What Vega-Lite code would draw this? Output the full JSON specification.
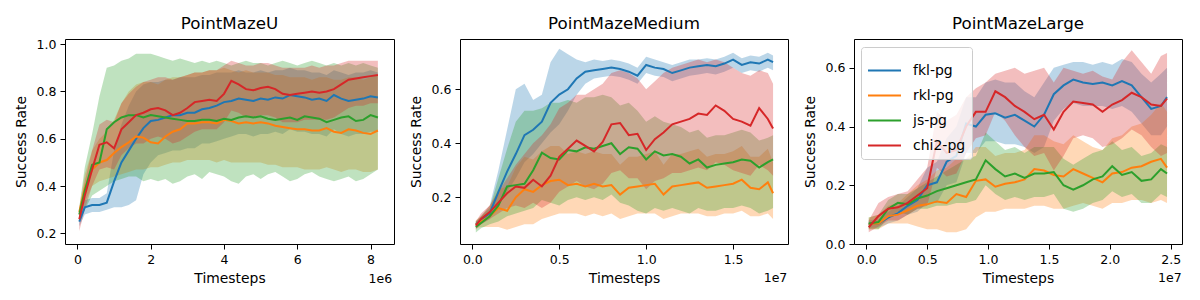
{
"$schema": "https://vega.github.io/schema/vega-lite/v6.json",
"padding": {"left": 13, "top": 15, "right": 5, "bottom": 5},
"spacing": 66,
"bounds": "flush",
"config": {
  "font": "DejaVu Sans",
  "view": {"stroke": "black", "strokeWidth": 1},
  "axis": {"domain": false, "grid": false, "tickColor": "black", "tickSize": 5, "tickWidth": 1, "labelFontSize": 12.5, "labelColor": "black", "labelPadding": 4, "titleFontSize": 13.9, "titleFontWeight": "normal", "titleColor": "black", "titlePadding": 6, "labelFont": "DejaVu Sans", "titleFont": "DejaVu Sans"},
  "axisY": {"titlePadding": 8},
  "title": {"fontSize": 16.7, "fontWeight": "normal", "font": "DejaVu Sans", "offset": 6, "color": "black"}
},
"resolve": {"scale": {"x": "independent", "y": "independent", "color": "independent"}, "legend": {"color": "independent"}},
"datasets": {
"U": [
{"algo":"fkl-pg","t":0.05,"y":0.25,"lo":0.23,"hi":0.27},
{"algo":"fkl-pg","t":0.2,"y":0.31,"lo":0.28,"hi":0.34},
{"algo":"fkl-pg","t":0.4,"y":0.32,"lo":0.29,"hi":0.35},
{"algo":"fkl-pg","t":0.6,"y":0.32,"lo":0.29,"hi":0.35},
{"algo":"fkl-pg","t":0.8,"y":0.33,"lo":0.30,"hi":0.37},
{"algo":"fkl-pg","t":1.0,"y":0.42,"lo":0.31,"hi":0.55},
{"algo":"fkl-pg","t":1.2,"y":0.50,"lo":0.31,"hi":0.66},
{"algo":"fkl-pg","t":1.4,"y":0.55,"lo":0.32,"hi":0.74},
{"algo":"fkl-pg","t":1.6,"y":0.60,"lo":0.34,"hi":0.80},
{"algo":"fkl-pg","t":1.8,"y":0.645,"lo":0.45,"hi":0.83},
{"algo":"fkl-pg","t":2.0,"y":0.675,"lo":0.50,"hi":0.84},
{"algo":"fkl-pg","t":2.2,"y":0.68,"lo":0.53,"hi":0.84},
{"algo":"fkl-pg","t":2.4,"y":0.69,"lo":0.54,"hi":0.85},
{"algo":"fkl-pg","t":2.6,"y":0.70,"lo":0.55,"hi":0.85},
{"algo":"fkl-pg","t":2.8,"y":0.70,"lo":0.55,"hi":0.86},
{"algo":"fkl-pg","t":3.0,"y":0.71,"lo":0.56,"hi":0.86},
{"algo":"fkl-pg","t":3.2,"y":0.71,"lo":0.56,"hi":0.86},
{"algo":"fkl-pg","t":3.4,"y":0.725,"lo":0.58,"hi":0.87},
{"algo":"fkl-pg","t":3.6,"y":0.73,"lo":0.58,"hi":0.87},
{"algo":"fkl-pg","t":3.8,"y":0.74,"lo":0.59,"hi":0.88},
{"algo":"fkl-pg","t":4.0,"y":0.755,"lo":0.60,"hi":0.88},
{"algo":"fkl-pg","t":4.2,"y":0.76,"lo":0.61,"hi":0.88},
{"algo":"fkl-pg","t":4.4,"y":0.77,"lo":0.62,"hi":0.89},
{"algo":"fkl-pg","t":4.6,"y":0.765,"lo":0.62,"hi":0.88},
{"algo":"fkl-pg","t":4.8,"y":0.76,"lo":0.61,"hi":0.88},
{"algo":"fkl-pg","t":5.0,"y":0.77,"lo":0.62,"hi":0.89},
{"algo":"fkl-pg","t":5.2,"y":0.765,"lo":0.62,"hi":0.88},
{"algo":"fkl-pg","t":5.4,"y":0.775,"lo":0.63,"hi":0.89},
{"algo":"fkl-pg","t":5.6,"y":0.77,"lo":0.62,"hi":0.89},
{"algo":"fkl-pg","t":5.8,"y":0.785,"lo":0.64,"hi":0.90},
{"algo":"fkl-pg","t":6.0,"y":0.78,"lo":0.63,"hi":0.89},
{"algo":"fkl-pg","t":6.2,"y":0.775,"lo":0.63,"hi":0.89},
{"algo":"fkl-pg","t":6.4,"y":0.765,"lo":0.62,"hi":0.88},
{"algo":"fkl-pg","t":6.6,"y":0.77,"lo":0.62,"hi":0.88},
{"algo":"fkl-pg","t":6.8,"y":0.76,"lo":0.61,"hi":0.87},
{"algo":"fkl-pg","t":7.0,"y":0.785,"lo":0.64,"hi":0.89},
{"algo":"fkl-pg","t":7.2,"y":0.77,"lo":0.62,"hi":0.88},
{"algo":"fkl-pg","t":7.4,"y":0.76,"lo":0.61,"hi":0.87},
{"algo":"fkl-pg","t":7.6,"y":0.765,"lo":0.62,"hi":0.88},
{"algo":"fkl-pg","t":7.8,"y":0.77,"lo":0.62,"hi":0.88},
{"algo":"fkl-pg","t":8.0,"y":0.78,"lo":0.63,"hi":0.89},
{"algo":"fkl-pg","t":8.2,"y":0.775,"lo":0.63,"hi":0.88},
{"algo":"rkl-pg","t":0.05,"y":0.29,"lo":0.27,"hi":0.31},
{"algo":"rkl-pg","t":0.2,"y":0.39,"lo":0.33,"hi":0.45},
{"algo":"rkl-pg","t":0.4,"y":0.47,"lo":0.40,"hi":0.55},
{"algo":"rkl-pg","t":0.6,"y":0.50,"lo":0.42,"hi":0.60},
{"algo":"rkl-pg","t":0.8,"y":0.51,"lo":0.43,"hi":0.63},
{"algo":"rkl-pg","t":1.0,"y":0.54,"lo":0.44,"hi":0.68},
{"algo":"rkl-pg","t":1.2,"y":0.565,"lo":0.45,"hi":0.75},
{"algo":"rkl-pg","t":1.4,"y":0.585,"lo":0.46,"hi":0.80},
{"algo":"rkl-pg","t":1.6,"y":0.61,"lo":0.47,"hi":0.83},
{"algo":"rkl-pg","t":1.8,"y":0.605,"lo":0.47,"hi":0.84},
{"algo":"rkl-pg","t":2.0,"y":0.585,"lo":0.48,"hi":0.84},
{"algo":"rkl-pg","t":2.2,"y":0.58,"lo":0.48,"hi":0.83},
{"algo":"rkl-pg","t":2.4,"y":0.61,"lo":0.49,"hi":0.85},
{"algo":"rkl-pg","t":2.6,"y":0.63,"lo":0.50,"hi":0.86},
{"algo":"rkl-pg","t":2.8,"y":0.64,"lo":0.50,"hi":0.86},
{"algo":"rkl-pg","t":3.0,"y":0.665,"lo":0.51,"hi":0.87},
{"algo":"rkl-pg","t":3.2,"y":0.665,"lo":0.51,"hi":0.88},
{"algo":"rkl-pg","t":3.4,"y":0.67,"lo":0.51,"hi":0.88},
{"algo":"rkl-pg","t":3.6,"y":0.67,"lo":0.51,"hi":0.89},
{"algo":"rkl-pg","t":3.8,"y":0.665,"lo":0.50,"hi":0.89},
{"algo":"rkl-pg","t":4.0,"y":0.68,"lo":0.51,"hi":0.90},
{"algo":"rkl-pg","t":4.2,"y":0.675,"lo":0.50,"hi":0.89},
{"algo":"rkl-pg","t":4.4,"y":0.665,"lo":0.50,"hi":0.88},
{"algo":"rkl-pg","t":4.6,"y":0.67,"lo":0.50,"hi":0.89},
{"algo":"rkl-pg","t":4.8,"y":0.665,"lo":0.50,"hi":0.88},
{"algo":"rkl-pg","t":5.0,"y":0.67,"lo":0.50,"hi":0.88},
{"algo":"rkl-pg","t":5.2,"y":0.665,"lo":0.49,"hi":0.88},
{"algo":"rkl-pg","t":5.4,"y":0.655,"lo":0.49,"hi":0.87},
{"algo":"rkl-pg","t":5.6,"y":0.65,"lo":0.48,"hi":0.87},
{"algo":"rkl-pg","t":5.8,"y":0.645,"lo":0.48,"hi":0.86},
{"algo":"rkl-pg","t":6.0,"y":0.64,"lo":0.48,"hi":0.86},
{"algo":"rkl-pg","t":6.2,"y":0.64,"lo":0.47,"hi":0.86},
{"algo":"rkl-pg","t":6.4,"y":0.635,"lo":0.47,"hi":0.85},
{"algo":"rkl-pg","t":6.6,"y":0.635,"lo":0.47,"hi":0.86},
{"algo":"rkl-pg","t":6.8,"y":0.645,"lo":0.48,"hi":0.86},
{"algo":"rkl-pg","t":7.0,"y":0.63,"lo":0.47,"hi":0.85},
{"algo":"rkl-pg","t":7.2,"y":0.625,"lo":0.46,"hi":0.85},
{"algo":"rkl-pg","t":7.4,"y":0.64,"lo":0.47,"hi":0.86},
{"algo":"rkl-pg","t":7.6,"y":0.635,"lo":0.47,"hi":0.86},
{"algo":"rkl-pg","t":7.8,"y":0.625,"lo":0.46,"hi":0.85},
{"algo":"rkl-pg","t":8.0,"y":0.62,"lo":0.46,"hi":0.86},
{"algo":"rkl-pg","t":8.2,"y":0.635,"lo":0.47,"hi":0.87},
{"algo":"js-pg","t":0.05,"y":0.28,"lo":0.25,"hi":0.31},
{"algo":"js-pg","t":0.2,"y":0.38,"lo":0.30,"hi":0.48},
{"algo":"js-pg","t":0.4,"y":0.49,"lo":0.36,"hi":0.62},
{"algo":"js-pg","t":0.6,"y":0.50,"lo":0.38,"hi":0.78},
{"algo":"js-pg","t":0.8,"y":0.64,"lo":0.40,"hi":0.90},
{"algo":"js-pg","t":1.0,"y":0.67,"lo":0.42,"hi":0.91},
{"algo":"js-pg","t":1.2,"y":0.69,"lo":0.43,"hi":0.93},
{"algo":"js-pg","t":1.4,"y":0.70,"lo":0.44,"hi":0.94},
{"algo":"js-pg","t":1.6,"y":0.70,"lo":0.44,"hi":0.96},
{"algo":"js-pg","t":1.8,"y":0.69,"lo":0.42,"hi":0.96},
{"algo":"js-pg","t":2.0,"y":0.70,"lo":0.43,"hi":0.96},
{"algo":"js-pg","t":2.2,"y":0.695,"lo":0.42,"hi":0.95},
{"algo":"js-pg","t":2.4,"y":0.69,"lo":0.43,"hi":0.94},
{"algo":"js-pg","t":2.6,"y":0.685,"lo":0.41,"hi":0.93},
{"algo":"js-pg","t":2.8,"y":0.68,"lo":0.42,"hi":0.94},
{"algo":"js-pg","t":3.0,"y":0.675,"lo":0.44,"hi":0.93},
{"algo":"js-pg","t":3.2,"y":0.675,"lo":0.45,"hi":0.92},
{"algo":"js-pg","t":3.4,"y":0.68,"lo":0.43,"hi":0.93},
{"algo":"js-pg","t":3.6,"y":0.68,"lo":0.46,"hi":0.92},
{"algo":"js-pg","t":3.8,"y":0.675,"lo":0.45,"hi":0.93},
{"algo":"js-pg","t":4.0,"y":0.685,"lo":0.44,"hi":0.92},
{"algo":"js-pg","t":4.2,"y":0.68,"lo":0.42,"hi":0.91},
{"algo":"js-pg","t":4.4,"y":0.69,"lo":0.41,"hi":0.92},
{"algo":"js-pg","t":4.6,"y":0.695,"lo":0.44,"hi":0.93},
{"algo":"js-pg","t":4.8,"y":0.69,"lo":0.45,"hi":0.92},
{"algo":"js-pg","t":5.0,"y":0.695,"lo":0.43,"hi":0.92},
{"algo":"js-pg","t":5.2,"y":0.685,"lo":0.45,"hi":0.91},
{"algo":"js-pg","t":5.4,"y":0.68,"lo":0.46,"hi":0.92},
{"algo":"js-pg","t":5.6,"y":0.685,"lo":0.44,"hi":0.93},
{"algo":"js-pg","t":5.8,"y":0.69,"lo":0.42,"hi":0.92},
{"algo":"js-pg","t":6.0,"y":0.68,"lo":0.43,"hi":0.91},
{"algo":"js-pg","t":6.2,"y":0.695,"lo":0.45,"hi":0.92},
{"algo":"js-pg","t":6.4,"y":0.69,"lo":0.46,"hi":0.93},
{"algo":"js-pg","t":6.6,"y":0.685,"lo":0.44,"hi":0.92},
{"algo":"js-pg","t":6.8,"y":0.67,"lo":0.43,"hi":0.91},
{"algo":"js-pg","t":7.0,"y":0.68,"lo":0.42,"hi":0.92},
{"algo":"js-pg","t":7.2,"y":0.69,"lo":0.43,"hi":0.91},
{"algo":"js-pg","t":7.4,"y":0.695,"lo":0.44,"hi":0.92},
{"algo":"js-pg","t":7.6,"y":0.675,"lo":0.42,"hi":0.91},
{"algo":"js-pg","t":7.8,"y":0.68,"lo":0.43,"hi":0.92},
{"algo":"js-pg","t":8.0,"y":0.70,"lo":0.45,"hi":0.91},
{"algo":"js-pg","t":8.2,"y":0.69,"lo":0.47,"hi":0.90},
{"algo":"chi2-pg","t":0.05,"y":0.26,"lo":0.21,"hi":0.30},
{"algo":"chi2-pg","t":0.2,"y":0.36,"lo":0.30,"hi":0.42},
{"algo":"chi2-pg","t":0.4,"y":0.47,"lo":0.40,"hi":0.55},
{"algo":"chi2-pg","t":0.6,"y":0.575,"lo":0.47,"hi":0.66},
{"algo":"chi2-pg","t":0.8,"y":0.585,"lo":0.48,"hi":0.68},
{"algo":"chi2-pg","t":1.0,"y":0.56,"lo":0.47,"hi":0.67},
{"algo":"chi2-pg","t":1.2,"y":0.64,"lo":0.53,"hi":0.75},
{"algo":"chi2-pg","t":1.4,"y":0.67,"lo":0.56,"hi":0.79},
{"algo":"chi2-pg","t":1.6,"y":0.70,"lo":0.58,"hi":0.82},
{"algo":"chi2-pg","t":1.8,"y":0.71,"lo":0.58,"hi":0.84},
{"algo":"chi2-pg","t":2.0,"y":0.725,"lo":0.60,"hi":0.85},
{"algo":"chi2-pg","t":2.2,"y":0.73,"lo":0.61,"hi":0.86},
{"algo":"chi2-pg","t":2.4,"y":0.72,"lo":0.60,"hi":0.86},
{"algo":"chi2-pg","t":2.6,"y":0.70,"lo":0.58,"hi":0.85},
{"algo":"chi2-pg","t":2.8,"y":0.71,"lo":0.59,"hi":0.86},
{"algo":"chi2-pg","t":3.0,"y":0.73,"lo":0.61,"hi":0.87},
{"algo":"chi2-pg","t":3.2,"y":0.755,"lo":0.63,"hi":0.88},
{"algo":"chi2-pg","t":3.4,"y":0.76,"lo":0.64,"hi":0.88},
{"algo":"chi2-pg","t":3.6,"y":0.765,"lo":0.64,"hi":0.89},
{"algo":"chi2-pg","t":3.8,"y":0.76,"lo":0.64,"hi":0.89},
{"algo":"chi2-pg","t":4.0,"y":0.79,"lo":0.67,"hi":0.91},
{"algo":"chi2-pg","t":4.2,"y":0.845,"lo":0.72,"hi":0.93},
{"algo":"chi2-pg","t":4.4,"y":0.83,"lo":0.71,"hi":0.92},
{"algo":"chi2-pg","t":4.6,"y":0.81,"lo":0.69,"hi":0.91},
{"algo":"chi2-pg","t":4.8,"y":0.805,"lo":0.69,"hi":0.91},
{"algo":"chi2-pg","t":5.0,"y":0.815,"lo":0.70,"hi":0.92},
{"algo":"chi2-pg","t":5.2,"y":0.82,"lo":0.70,"hi":0.92},
{"algo":"chi2-pg","t":5.4,"y":0.81,"lo":0.69,"hi":0.91},
{"algo":"chi2-pg","t":5.6,"y":0.79,"lo":0.67,"hi":0.90},
{"algo":"chi2-pg","t":5.8,"y":0.785,"lo":0.67,"hi":0.90},
{"algo":"chi2-pg","t":6.0,"y":0.79,"lo":0.67,"hi":0.90},
{"algo":"chi2-pg","t":6.2,"y":0.795,"lo":0.68,"hi":0.90},
{"algo":"chi2-pg","t":6.4,"y":0.80,"lo":0.68,"hi":0.91},
{"algo":"chi2-pg","t":6.6,"y":0.795,"lo":0.68,"hi":0.90},
{"algo":"chi2-pg","t":6.8,"y":0.80,"lo":0.68,"hi":0.91},
{"algo":"chi2-pg","t":7.0,"y":0.81,"lo":0.69,"hi":0.91},
{"algo":"chi2-pg","t":7.2,"y":0.83,"lo":0.71,"hi":0.92},
{"algo":"chi2-pg","t":7.4,"y":0.85,"lo":0.73,"hi":0.93},
{"algo":"chi2-pg","t":7.6,"y":0.855,"lo":0.74,"hi":0.93},
{"algo":"chi2-pg","t":7.8,"y":0.86,"lo":0.74,"hi":0.93},
{"algo":"chi2-pg","t":8.0,"y":0.865,"lo":0.75,"hi":0.93},
{"algo":"chi2-pg","t":8.2,"y":0.87,"lo":0.75,"hi":0.93}
],
"M": [
{"algo":"fkl-pg","t":0.02,"y":0.10,"lo":0.085,"hi":0.11},
{"algo":"fkl-pg","t":0.05,"y":0.115,"lo":0.10,"hi":0.13},
{"algo":"fkl-pg","t":0.1,"y":0.14,"lo":0.12,"hi":0.17},
{"algo":"fkl-pg","t":0.15,"y":0.22,"lo":0.17,"hi":0.30},
{"algo":"fkl-pg","t":0.2,"y":0.295,"lo":0.22,"hi":0.45},
{"algo":"fkl-pg","t":0.25,"y":0.36,"lo":0.27,"hi":0.60},
{"algo":"fkl-pg","t":0.3,"y":0.43,"lo":0.33,"hi":0.62},
{"algo":"fkl-pg","t":0.35,"y":0.45,"lo":0.36,"hi":0.56},
{"algo":"fkl-pg","t":0.4,"y":0.48,"lo":0.40,"hi":0.58},
{"algo":"fkl-pg","t":0.45,"y":0.55,"lo":0.44,"hi":0.70},
{"algo":"fkl-pg","t":0.5,"y":0.58,"lo":0.47,"hi":0.75},
{"algo":"fkl-pg","t":0.55,"y":0.60,"lo":0.52,"hi":0.73},
{"algo":"fkl-pg","t":0.6,"y":0.64,"lo":0.58,"hi":0.71},
{"algo":"fkl-pg","t":0.65,"y":0.665,"lo":0.62,"hi":0.70},
{"algo":"fkl-pg","t":0.7,"y":0.67,"lo":0.64,"hi":0.71},
{"algo":"fkl-pg","t":0.75,"y":0.675,"lo":0.645,"hi":0.705},
{"algo":"fkl-pg","t":0.8,"y":0.68,"lo":0.65,"hi":0.71},
{"algo":"fkl-pg","t":0.85,"y":0.675,"lo":0.645,"hi":0.705},
{"algo":"fkl-pg","t":0.9,"y":0.665,"lo":0.635,"hi":0.695},
{"algo":"fkl-pg","t":0.95,"y":0.65,"lo":0.62,"hi":0.68},
{"algo":"fkl-pg","t":1.0,"y":0.69,"lo":0.66,"hi":0.72},
{"algo":"fkl-pg","t":1.05,"y":0.68,"lo":0.65,"hi":0.71},
{"algo":"fkl-pg","t":1.1,"y":0.675,"lo":0.645,"hi":0.70},
{"algo":"fkl-pg","t":1.15,"y":0.66,"lo":0.63,"hi":0.69},
{"algo":"fkl-pg","t":1.2,"y":0.67,"lo":0.64,"hi":0.70},
{"algo":"fkl-pg","t":1.25,"y":0.68,"lo":0.65,"hi":0.71},
{"algo":"fkl-pg","t":1.3,"y":0.685,"lo":0.655,"hi":0.71},
{"algo":"fkl-pg","t":1.35,"y":0.69,"lo":0.66,"hi":0.715},
{"algo":"fkl-pg","t":1.4,"y":0.685,"lo":0.655,"hi":0.71},
{"algo":"fkl-pg","t":1.45,"y":0.695,"lo":0.665,"hi":0.72},
{"algo":"fkl-pg","t":1.5,"y":0.71,"lo":0.68,"hi":0.735},
{"algo":"fkl-pg","t":1.55,"y":0.69,"lo":0.66,"hi":0.715},
{"algo":"fkl-pg","t":1.6,"y":0.70,"lo":0.67,"hi":0.725},
{"algo":"fkl-pg","t":1.65,"y":0.695,"lo":0.665,"hi":0.72},
{"algo":"fkl-pg","t":1.7,"y":0.71,"lo":0.68,"hi":0.735},
{"algo":"fkl-pg","t":1.73,"y":0.70,"lo":0.67,"hi":0.725},
{"algo":"rkl-pg","t":0.02,"y":0.10,"lo":0.085,"hi":0.115},
{"algo":"rkl-pg","t":0.05,"y":0.11,"lo":0.09,"hi":0.13},
{"algo":"rkl-pg","t":0.1,"y":0.13,"lo":0.09,"hi":0.17},
{"algo":"rkl-pg","t":0.15,"y":0.16,"lo":0.09,"hi":0.23},
{"algo":"rkl-pg","t":0.2,"y":0.15,"lo":0.08,"hi":0.24},
{"algo":"rkl-pg","t":0.25,"y":0.20,"lo":0.09,"hi":0.31},
{"algo":"rkl-pg","t":0.3,"y":0.23,"lo":0.10,"hi":0.35},
{"algo":"rkl-pg","t":0.35,"y":0.22,"lo":0.10,"hi":0.34},
{"algo":"rkl-pg","t":0.4,"y":0.245,"lo":0.12,"hi":0.37},
{"algo":"rkl-pg","t":0.45,"y":0.26,"lo":0.13,"hi":0.39},
{"algo":"rkl-pg","t":0.5,"y":0.265,"lo":0.14,"hi":0.39},
{"algo":"rkl-pg","t":0.55,"y":0.245,"lo":0.14,"hi":0.36},
{"algo":"rkl-pg","t":0.6,"y":0.25,"lo":0.14,"hi":0.37},
{"algo":"rkl-pg","t":0.65,"y":0.24,"lo":0.13,"hi":0.36},
{"algo":"rkl-pg","t":0.7,"y":0.25,"lo":0.14,"hi":0.37},
{"algo":"rkl-pg","t":0.75,"y":0.24,"lo":0.13,"hi":0.36},
{"algo":"rkl-pg","t":0.8,"y":0.245,"lo":0.14,"hi":0.36},
{"algo":"rkl-pg","t":0.85,"y":0.21,"lo":0.12,"hi":0.32},
{"algo":"rkl-pg","t":0.9,"y":0.235,"lo":0.13,"hi":0.35},
{"algo":"rkl-pg","t":0.95,"y":0.24,"lo":0.14,"hi":0.35},
{"algo":"rkl-pg","t":1.0,"y":0.245,"lo":0.14,"hi":0.36},
{"algo":"rkl-pg","t":1.05,"y":0.25,"lo":0.14,"hi":0.37},
{"algo":"rkl-pg","t":1.1,"y":0.21,"lo":0.12,"hi":0.32},
{"algo":"rkl-pg","t":1.15,"y":0.24,"lo":0.13,"hi":0.36},
{"algo":"rkl-pg","t":1.2,"y":0.245,"lo":0.14,"hi":0.36},
{"algo":"rkl-pg","t":1.25,"y":0.25,"lo":0.14,"hi":0.37},
{"algo":"rkl-pg","t":1.3,"y":0.255,"lo":0.14,"hi":0.38},
{"algo":"rkl-pg","t":1.35,"y":0.235,"lo":0.13,"hi":0.35},
{"algo":"rkl-pg","t":1.4,"y":0.24,"lo":0.13,"hi":0.36},
{"algo":"rkl-pg","t":1.45,"y":0.245,"lo":0.14,"hi":0.36},
{"algo":"rkl-pg","t":1.5,"y":0.25,"lo":0.14,"hi":0.37},
{"algo":"rkl-pg","t":1.55,"y":0.265,"lo":0.15,"hi":0.39},
{"algo":"rkl-pg","t":1.6,"y":0.235,"lo":0.13,"hi":0.35},
{"algo":"rkl-pg","t":1.65,"y":0.23,"lo":0.13,"hi":0.35},
{"algo":"rkl-pg","t":1.7,"y":0.255,"lo":0.14,"hi":0.38},
{"algo":"rkl-pg","t":1.73,"y":0.215,"lo":0.12,"hi":0.33},
{"algo":"js-pg","t":0.02,"y":0.09,"lo":0.07,"hi":0.11},
{"algo":"js-pg","t":0.05,"y":0.105,"lo":0.085,"hi":0.13},
{"algo":"js-pg","t":0.1,"y":0.13,"lo":0.10,"hi":0.16},
{"algo":"js-pg","t":0.15,"y":0.17,"lo":0.11,"hi":0.27},
{"algo":"js-pg","t":0.2,"y":0.24,"lo":0.13,"hi":0.38},
{"algo":"js-pg","t":0.25,"y":0.245,"lo":0.14,"hi":0.48},
{"algo":"js-pg","t":0.3,"y":0.25,"lo":0.15,"hi":0.52},
{"algo":"js-pg","t":0.35,"y":0.30,"lo":0.16,"hi":0.52},
{"algo":"js-pg","t":0.4,"y":0.365,"lo":0.19,"hi":0.53},
{"algo":"js-pg","t":0.45,"y":0.345,"lo":0.18,"hi":0.55},
{"algo":"js-pg","t":0.5,"y":0.34,"lo":0.17,"hi":0.55},
{"algo":"js-pg","t":0.55,"y":0.375,"lo":0.19,"hi":0.56},
{"algo":"js-pg","t":0.6,"y":0.37,"lo":0.20,"hi":0.55},
{"algo":"js-pg","t":0.65,"y":0.385,"lo":0.19,"hi":0.57},
{"algo":"js-pg","t":0.7,"y":0.38,"lo":0.20,"hi":0.57},
{"algo":"js-pg","t":0.75,"y":0.39,"lo":0.19,"hi":0.58},
{"algo":"js-pg","t":0.8,"y":0.40,"lo":0.21,"hi":0.57},
{"algo":"js-pg","t":0.85,"y":0.36,"lo":0.18,"hi":0.54},
{"algo":"js-pg","t":0.9,"y":0.385,"lo":0.17,"hi":0.55},
{"algo":"js-pg","t":0.95,"y":0.38,"lo":0.15,"hi":0.52},
{"algo":"js-pg","t":1.0,"y":0.34,"lo":0.14,"hi":0.48},
{"algo":"js-pg","t":1.05,"y":0.37,"lo":0.16,"hi":0.50},
{"algo":"js-pg","t":1.1,"y":0.355,"lo":0.15,"hi":0.48},
{"algo":"js-pg","t":1.15,"y":0.36,"lo":0.16,"hi":0.47},
{"algo":"js-pg","t":1.2,"y":0.35,"lo":0.15,"hi":0.46},
{"algo":"js-pg","t":1.25,"y":0.325,"lo":0.14,"hi":0.44},
{"algo":"js-pg","t":1.3,"y":0.34,"lo":0.16,"hi":0.45},
{"algo":"js-pg","t":1.35,"y":0.31,"lo":0.15,"hi":0.42},
{"algo":"js-pg","t":1.4,"y":0.32,"lo":0.15,"hi":0.43},
{"algo":"js-pg","t":1.45,"y":0.325,"lo":0.16,"hi":0.43},
{"algo":"js-pg","t":1.5,"y":0.33,"lo":0.16,"hi":0.44},
{"algo":"js-pg","t":1.55,"y":0.34,"lo":0.17,"hi":0.45},
{"algo":"js-pg","t":1.6,"y":0.335,"lo":0.16,"hi":0.44},
{"algo":"js-pg","t":1.65,"y":0.31,"lo":0.14,"hi":0.41},
{"algo":"js-pg","t":1.7,"y":0.33,"lo":0.15,"hi":0.42},
{"algo":"js-pg","t":1.73,"y":0.34,"lo":0.16,"hi":0.43},
{"algo":"chi2-pg","t":0.02,"y":0.095,"lo":0.08,"hi":0.11},
{"algo":"chi2-pg","t":0.05,"y":0.12,"lo":0.10,"hi":0.14},
{"algo":"chi2-pg","t":0.1,"y":0.145,"lo":0.12,"hi":0.17},
{"algo":"chi2-pg","t":0.15,"y":0.18,"lo":0.14,"hi":0.22},
{"algo":"chi2-pg","t":0.2,"y":0.215,"lo":0.16,"hi":0.27},
{"algo":"chi2-pg","t":0.25,"y":0.24,"lo":0.17,"hi":0.32},
{"algo":"chi2-pg","t":0.3,"y":0.235,"lo":0.16,"hi":0.36},
{"algo":"chi2-pg","t":0.35,"y":0.265,"lo":0.18,"hi":0.40},
{"algo":"chi2-pg","t":0.4,"y":0.24,"lo":0.16,"hi":0.43},
{"algo":"chi2-pg","t":0.45,"y":0.28,"lo":0.18,"hi":0.47},
{"algo":"chi2-pg","t":0.5,"y":0.35,"lo":0.22,"hi":0.53},
{"algo":"chi2-pg","t":0.55,"y":0.38,"lo":0.24,"hi":0.55},
{"algo":"chi2-pg","t":0.6,"y":0.41,"lo":0.26,"hi":0.58},
{"algo":"chi2-pg","t":0.65,"y":0.39,"lo":0.24,"hi":0.58},
{"algo":"chi2-pg","t":0.7,"y":0.37,"lo":0.23,"hi":0.60},
{"algo":"chi2-pg","t":0.75,"y":0.405,"lo":0.25,"hi":0.62},
{"algo":"chi2-pg","t":0.8,"y":0.47,"lo":0.29,"hi":0.66},
{"algo":"chi2-pg","t":0.85,"y":0.475,"lo":0.30,"hi":0.67},
{"algo":"chi2-pg","t":0.9,"y":0.43,"lo":0.27,"hi":0.66},
{"algo":"chi2-pg","t":0.95,"y":0.435,"lo":0.27,"hi":0.64},
{"algo":"chi2-pg","t":1.0,"y":0.375,"lo":0.23,"hi":0.60},
{"algo":"chi2-pg","t":1.05,"y":0.415,"lo":0.26,"hi":0.63},
{"algo":"chi2-pg","t":1.1,"y":0.44,"lo":0.27,"hi":0.66},
{"algo":"chi2-pg","t":1.15,"y":0.47,"lo":0.29,"hi":0.68},
{"algo":"chi2-pg","t":1.2,"y":0.48,"lo":0.29,"hi":0.69},
{"algo":"chi2-pg","t":1.25,"y":0.49,"lo":0.30,"hi":0.70},
{"algo":"chi2-pg","t":1.3,"y":0.51,"lo":0.31,"hi":0.71},
{"algo":"chi2-pg","t":1.35,"y":0.505,"lo":0.30,"hi":0.70},
{"algo":"chi2-pg","t":1.4,"y":0.54,"lo":0.33,"hi":0.71},
{"algo":"chi2-pg","t":1.45,"y":0.52,"lo":0.32,"hi":0.70},
{"algo":"chi2-pg","t":1.5,"y":0.49,"lo":0.30,"hi":0.68},
{"algo":"chi2-pg","t":1.55,"y":0.48,"lo":0.29,"hi":0.66},
{"algo":"chi2-pg","t":1.6,"y":0.465,"lo":0.28,"hi":0.65},
{"algo":"chi2-pg","t":1.65,"y":0.53,"lo":0.32,"hi":0.67},
{"algo":"chi2-pg","t":1.7,"y":0.49,"lo":0.30,"hi":0.66},
{"algo":"chi2-pg","t":1.73,"y":0.455,"lo":0.28,"hi":0.62}
],
"L": [
{"algo":"fkl-pg","t":0.02,"y":0.068,"lo":0.055,"hi":0.08},
{"algo":"fkl-pg","t":0.1,"y":0.07,"lo":0.055,"hi":0.085},
{"algo":"fkl-pg","t":0.18,"y":0.09,"lo":0.07,"hi":0.11},
{"algo":"fkl-pg","t":0.26,"y":0.105,"lo":0.08,"hi":0.13},
{"algo":"fkl-pg","t":0.34,"y":0.13,"lo":0.10,"hi":0.16},
{"algo":"fkl-pg","t":0.42,"y":0.15,"lo":0.11,"hi":0.19},
{"algo":"fkl-pg","t":0.5,"y":0.20,"lo":0.14,"hi":0.26},
{"algo":"fkl-pg","t":0.58,"y":0.21,"lo":0.14,"hi":0.28},
{"algo":"fkl-pg","t":0.66,"y":0.28,"lo":0.20,"hi":0.36},
{"algo":"fkl-pg","t":0.74,"y":0.30,"lo":0.21,"hi":0.40},
{"algo":"fkl-pg","t":0.82,"y":0.41,"lo":0.31,"hi":0.50},
{"algo":"fkl-pg","t":0.9,"y":0.40,"lo":0.31,"hi":0.50},
{"algo":"fkl-pg","t":0.98,"y":0.44,"lo":0.35,"hi":0.55},
{"algo":"fkl-pg","t":1.06,"y":0.445,"lo":0.35,"hi":0.56},
{"algo":"fkl-pg","t":1.14,"y":0.43,"lo":0.34,"hi":0.55},
{"algo":"fkl-pg","t":1.22,"y":0.44,"lo":0.34,"hi":0.55},
{"algo":"fkl-pg","t":1.3,"y":0.42,"lo":0.33,"hi":0.52},
{"algo":"fkl-pg","t":1.38,"y":0.40,"lo":0.31,"hi":0.50},
{"algo":"fkl-pg","t":1.46,"y":0.44,"lo":0.33,"hi":0.55},
{"algo":"fkl-pg","t":1.54,"y":0.51,"lo":0.42,"hi":0.60},
{"algo":"fkl-pg","t":1.62,"y":0.54,"lo":0.46,"hi":0.61},
{"algo":"fkl-pg","t":1.7,"y":0.56,"lo":0.48,"hi":0.62},
{"algo":"fkl-pg","t":1.78,"y":0.55,"lo":0.47,"hi":0.62},
{"algo":"fkl-pg","t":1.86,"y":0.545,"lo":0.47,"hi":0.61},
{"algo":"fkl-pg","t":1.94,"y":0.55,"lo":0.47,"hi":0.62},
{"algo":"fkl-pg","t":2.02,"y":0.54,"lo":0.46,"hi":0.61},
{"algo":"fkl-pg","t":2.1,"y":0.555,"lo":0.47,"hi":0.63},
{"algo":"fkl-pg","t":2.18,"y":0.54,"lo":0.45,"hi":0.62},
{"algo":"fkl-pg","t":2.26,"y":0.50,"lo":0.41,"hi":0.58},
{"algo":"fkl-pg","t":2.34,"y":0.46,"lo":0.37,"hi":0.55},
{"algo":"fkl-pg","t":2.42,"y":0.47,"lo":0.37,"hi":0.58},
{"algo":"fkl-pg","t":2.47,"y":0.50,"lo":0.40,"hi":0.60},
{"algo":"rkl-pg","t":0.02,"y":0.068,"lo":0.05,"hi":0.09},
{"algo":"rkl-pg","t":0.1,"y":0.07,"lo":0.05,"hi":0.10},
{"algo":"rkl-pg","t":0.18,"y":0.095,"lo":0.07,"hi":0.13},
{"algo":"rkl-pg","t":0.26,"y":0.10,"lo":0.07,"hi":0.14},
{"algo":"rkl-pg","t":0.34,"y":0.115,"lo":0.07,"hi":0.17},
{"algo":"rkl-pg","t":0.42,"y":0.13,"lo":0.06,"hi":0.20},
{"algo":"rkl-pg","t":0.5,"y":0.135,"lo":0.05,"hi":0.22},
{"algo":"rkl-pg","t":0.58,"y":0.145,"lo":0.05,"hi":0.25},
{"algo":"rkl-pg","t":0.66,"y":0.14,"lo":0.04,"hi":0.26},
{"algo":"rkl-pg","t":0.74,"y":0.17,"lo":0.04,"hi":0.29},
{"algo":"rkl-pg","t":0.82,"y":0.16,"lo":0.05,"hi":0.29},
{"algo":"rkl-pg","t":0.9,"y":0.215,"lo":0.09,"hi":0.33},
{"algo":"rkl-pg","t":0.98,"y":0.22,"lo":0.11,"hi":0.33},
{"algo":"rkl-pg","t":1.06,"y":0.195,"lo":0.11,"hi":0.30},
{"algo":"rkl-pg","t":1.14,"y":0.205,"lo":0.12,"hi":0.31},
{"algo":"rkl-pg","t":1.22,"y":0.21,"lo":0.12,"hi":0.31},
{"algo":"rkl-pg","t":1.3,"y":0.22,"lo":0.12,"hi":0.32},
{"algo":"rkl-pg","t":1.38,"y":0.255,"lo":0.13,"hi":0.37},
{"algo":"rkl-pg","t":1.46,"y":0.25,"lo":0.13,"hi":0.37},
{"algo":"rkl-pg","t":1.54,"y":0.235,"lo":0.12,"hi":0.35},
{"algo":"rkl-pg","t":1.62,"y":0.23,"lo":0.12,"hi":0.34},
{"algo":"rkl-pg","t":1.7,"y":0.255,"lo":0.13,"hi":0.37},
{"algo":"rkl-pg","t":1.78,"y":0.24,"lo":0.14,"hi":0.35},
{"algo":"rkl-pg","t":1.86,"y":0.225,"lo":0.13,"hi":0.33},
{"algo":"rkl-pg","t":1.94,"y":0.21,"lo":0.12,"hi":0.32},
{"algo":"rkl-pg","t":2.02,"y":0.24,"lo":0.14,"hi":0.36},
{"algo":"rkl-pg","t":2.1,"y":0.245,"lo":0.14,"hi":0.37},
{"algo":"rkl-pg","t":2.18,"y":0.26,"lo":0.15,"hi":0.40},
{"algo":"rkl-pg","t":2.26,"y":0.265,"lo":0.15,"hi":0.41},
{"algo":"rkl-pg","t":2.34,"y":0.28,"lo":0.14,"hi":0.44},
{"algo":"rkl-pg","t":2.42,"y":0.29,"lo":0.15,"hi":0.48},
{"algo":"rkl-pg","t":2.47,"y":0.26,"lo":0.14,"hi":0.45},
{"algo":"js-pg","t":0.02,"y":0.07,"lo":0.05,"hi":0.09},
{"algo":"js-pg","t":0.1,"y":0.075,"lo":0.05,"hi":0.10},
{"algo":"js-pg","t":0.18,"y":0.12,"lo":0.09,"hi":0.15},
{"algo":"js-pg","t":0.26,"y":0.14,"lo":0.11,"hi":0.17},
{"algo":"js-pg","t":0.34,"y":0.135,"lo":0.10,"hi":0.17},
{"algo":"js-pg","t":0.42,"y":0.155,"lo":0.12,"hi":0.19},
{"algo":"js-pg","t":0.5,"y":0.165,"lo":0.12,"hi":0.21},
{"algo":"js-pg","t":0.58,"y":0.18,"lo":0.13,"hi":0.23},
{"algo":"js-pg","t":0.66,"y":0.19,"lo":0.13,"hi":0.25},
{"algo":"js-pg","t":0.74,"y":0.20,"lo":0.14,"hi":0.27},
{"algo":"js-pg","t":0.82,"y":0.21,"lo":0.14,"hi":0.29},
{"algo":"js-pg","t":0.9,"y":0.22,"lo":0.15,"hi":0.30},
{"algo":"js-pg","t":0.98,"y":0.285,"lo":0.20,"hi":0.38},
{"algo":"js-pg","t":1.06,"y":0.255,"lo":0.17,"hi":0.35},
{"algo":"js-pg","t":1.14,"y":0.23,"lo":0.15,"hi":0.32},
{"algo":"js-pg","t":1.22,"y":0.24,"lo":0.16,"hi":0.33},
{"algo":"js-pg","t":1.3,"y":0.225,"lo":0.15,"hi":0.31},
{"algo":"js-pg","t":1.38,"y":0.24,"lo":0.16,"hi":0.33},
{"algo":"js-pg","t":1.46,"y":0.24,"lo":0.16,"hi":0.33},
{"algo":"js-pg","t":1.54,"y":0.245,"lo":0.17,"hi":0.33},
{"algo":"js-pg","t":1.62,"y":0.20,"lo":0.12,"hi":0.29},
{"algo":"js-pg","t":1.7,"y":0.185,"lo":0.11,"hi":0.27},
{"algo":"js-pg","t":1.78,"y":0.20,"lo":0.12,"hi":0.29},
{"algo":"js-pg","t":1.86,"y":0.22,"lo":0.14,"hi":0.31},
{"algo":"js-pg","t":1.94,"y":0.23,"lo":0.15,"hi":0.32},
{"algo":"js-pg","t":2.02,"y":0.265,"lo":0.18,"hi":0.35},
{"algo":"js-pg","t":2.1,"y":0.235,"lo":0.16,"hi":0.32},
{"algo":"js-pg","t":2.18,"y":0.245,"lo":0.17,"hi":0.33},
{"algo":"js-pg","t":2.26,"y":0.215,"lo":0.14,"hi":0.30},
{"algo":"js-pg","t":2.34,"y":0.22,"lo":0.14,"hi":0.31},
{"algo":"js-pg","t":2.42,"y":0.255,"lo":0.17,"hi":0.34},
{"algo":"js-pg","t":2.47,"y":0.24,"lo":0.16,"hi":0.33},
{"algo":"chi2-pg","t":0.02,"y":0.057,"lo":0.04,"hi":0.08},
{"algo":"chi2-pg","t":0.1,"y":0.095,"lo":0.06,"hi":0.14},
{"algo":"chi2-pg","t":0.18,"y":0.12,"lo":0.08,"hi":0.16},
{"algo":"chi2-pg","t":0.26,"y":0.125,"lo":0.08,"hi":0.17},
{"algo":"chi2-pg","t":0.34,"y":0.14,"lo":0.10,"hi":0.18},
{"algo":"chi2-pg","t":0.42,"y":0.165,"lo":0.12,"hi":0.22},
{"algo":"chi2-pg","t":0.5,"y":0.19,"lo":0.13,"hi":0.26},
{"algo":"chi2-pg","t":0.58,"y":0.35,"lo":0.26,"hi":0.45},
{"algo":"chi2-pg","t":0.66,"y":0.31,"lo":0.23,"hi":0.42},
{"algo":"chi2-pg","t":0.74,"y":0.32,"lo":0.24,"hi":0.44},
{"algo":"chi2-pg","t":0.82,"y":0.40,"lo":0.31,"hi":0.50},
{"algo":"chi2-pg","t":0.9,"y":0.45,"lo":0.36,"hi":0.53},
{"algo":"chi2-pg","t":0.98,"y":0.45,"lo":0.37,"hi":0.55},
{"algo":"chi2-pg","t":1.06,"y":0.52,"lo":0.45,"hi":0.58},
{"algo":"chi2-pg","t":1.14,"y":0.50,"lo":0.42,"hi":0.59},
{"algo":"chi2-pg","t":1.22,"y":0.47,"lo":0.37,"hi":0.60},
{"algo":"chi2-pg","t":1.3,"y":0.45,"lo":0.33,"hi":0.58},
{"algo":"chi2-pg","t":1.38,"y":0.425,"lo":0.30,"hi":0.59},
{"algo":"chi2-pg","t":1.46,"y":0.44,"lo":0.31,"hi":0.60},
{"algo":"chi2-pg","t":1.54,"y":0.39,"lo":0.25,"hi":0.55},
{"algo":"chi2-pg","t":1.62,"y":0.45,"lo":0.30,"hi":0.60},
{"algo":"chi2-pg","t":1.7,"y":0.485,"lo":0.36,"hi":0.59},
{"algo":"chi2-pg","t":1.78,"y":0.48,"lo":0.37,"hi":0.58},
{"algo":"chi2-pg","t":1.86,"y":0.475,"lo":0.36,"hi":0.59},
{"algo":"chi2-pg","t":1.94,"y":0.45,"lo":0.33,"hi":0.57},
{"algo":"chi2-pg","t":2.02,"y":0.475,"lo":0.34,"hi":0.56},
{"algo":"chi2-pg","t":2.1,"y":0.49,"lo":0.36,"hi":0.62},
{"algo":"chi2-pg","t":2.18,"y":0.515,"lo":0.39,"hi":0.66},
{"algo":"chi2-pg","t":2.26,"y":0.50,"lo":0.37,"hi":0.62},
{"algo":"chi2-pg","t":2.34,"y":0.475,"lo":0.33,"hi":0.58},
{"algo":"chi2-pg","t":2.42,"y":0.47,"lo":0.30,"hi":0.64},
{"algo":"chi2-pg","t":2.47,"y":0.495,"lo":0.31,"hi":0.65}
]
},
"hconcat": [
{
 "title": "PointMazeU",
 "width": 329, "height": 205,
 "layer": [
  {"data": {"name": "U"}, "transform": [{"filter": "datum.algo === 'fkl-pg'"}], "mark": {"type": "area", "opacity": 0.3, "color": "#1f77b4"},
   "encoding": {"x": {"field": "t", "type": "quantitative", "scale": {"domain": [-0.34, 8.64], "nice": false, "zero": false}, "axis": {"values": [0,2,4,6,8], "format": "d", "title": "Timesteps"}}, "y": {"field": "lo", "type": "quantitative", "scale": {"domain": [0.155, 1.022], "nice": false, "zero": false}, "axis": {"values": [0.2,0.4,0.6,0.8,1.0], "format": ".1f", "title": "Success Rate"}}, "y2": {"field": "hi"}}},
  {"data": {"name": "U"}, "transform": [{"filter": "datum.algo === 'rkl-pg'"}], "mark": {"type": "area", "opacity": 0.3, "color": "#ff7f0e"},
   "encoding": {"x": {"field": "t", "type": "quantitative", "scale": {"domain": [-0.34, 8.64], "nice": false, "zero": false}}, "y": {"field": "lo", "type": "quantitative", "scale": {"domain": [0.155, 1.022], "nice": false, "zero": false}}, "y2": {"field": "hi"}}},
  {"data": {"name": "U"}, "transform": [{"filter": "datum.algo === 'js-pg'"}], "mark": {"type": "area", "opacity": 0.3, "color": "#2ca02c"},
   "encoding": {"x": {"field": "t", "type": "quantitative", "scale": {"domain": [-0.34, 8.64], "nice": false, "zero": false}}, "y": {"field": "lo", "type": "quantitative", "scale": {"domain": [0.155, 1.022], "nice": false, "zero": false}}, "y2": {"field": "hi"}}},
  {"data": {"name": "U"}, "transform": [{"filter": "datum.algo === 'chi2-pg'"}], "mark": {"type": "area", "opacity": 0.3, "color": "#d62728"},
   "encoding": {"x": {"field": "t", "type": "quantitative", "scale": {"domain": [-0.34, 8.64], "nice": false, "zero": false}}, "y": {"field": "lo", "type": "quantitative", "scale": {"domain": [0.155, 1.022], "nice": false, "zero": false}}, "y2": {"field": "hi"}}},
  {"data": {"name": "U"}, "mark": {"type": "line", "strokeWidth": 2},
   "encoding": {
    "x": {"field": "t", "type": "quantitative", "scale": {"domain": [-0.34, 8.64], "nice": false, "zero": false}},
    "y": {"field": "y", "type": "quantitative", "scale": {"domain": [0.155, 1.022], "nice": false, "zero": false}},
    "color": {"field": "algo", "type": "nominal", "scale": {"domain": ["fkl-pg","rkl-pg","js-pg","chi2-pg"], "range": ["#1f77b4","#ff7f0e","#2ca02c","#d62728"]}, "legend": null}
   }},
  {"data": {"values": [{"label": "1e6"}]}, "mark": {"type": "text", "align": "right", "baseline": "alphabetic", "fontSize": 12.5, "color": "black"},
   "encoding": {"x": {"datum": 8.59, "type": "quantitative"}, "y": {"datum": -0.008, "type": "quantitative"}, "text": {"field": "label"}}}
 ]
},
{
 "title": "PointMazeMedium",
 "width": 328, "height": 205,
 "layer": [
  {"data": {"name": "M"}, "transform": [{"filter": "datum.algo === 'fkl-pg'"}], "mark": {"type": "area", "opacity": 0.3, "color": "#1f77b4"},
   "encoding": {"x": {"field": "t", "type": "quantitative", "scale": {"domain": [-0.071, 1.816], "nice": false, "zero": false}, "axis": {"values": [0,0.5,1.0,1.5], "format": ".1f", "title": "Timesteps"}}, "y": {"field": "lo", "type": "quantitative", "scale": {"domain": [0.027, 0.786], "nice": false, "zero": false}, "axis": {"values": [0.2,0.4,0.6], "format": ".1f", "title": "Success Rate"}}, "y2": {"field": "hi"}}},
  {"data": {"name": "M"}, "transform": [{"filter": "datum.algo === 'rkl-pg'"}], "mark": {"type": "area", "opacity": 0.3, "color": "#ff7f0e"},
   "encoding": {"x": {"field": "t", "type": "quantitative", "scale": {"domain": [-0.071, 1.816], "nice": false, "zero": false}}, "y": {"field": "lo", "type": "quantitative", "scale": {"domain": [0.027, 0.786], "nice": false, "zero": false}}, "y2": {"field": "hi"}}},
  {"data": {"name": "M"}, "transform": [{"filter": "datum.algo === 'js-pg'"}], "mark": {"type": "area", "opacity": 0.3, "color": "#2ca02c"},
   "encoding": {"x": {"field": "t", "type": "quantitative", "scale": {"domain": [-0.071, 1.816], "nice": false, "zero": false}}, "y": {"field": "lo", "type": "quantitative", "scale": {"domain": [0.027, 0.786], "nice": false, "zero": false}}, "y2": {"field": "hi"}}},
  {"data": {"name": "M"}, "transform": [{"filter": "datum.algo === 'chi2-pg'"}], "mark": {"type": "area", "opacity": 0.3, "color": "#d62728"},
   "encoding": {"x": {"field": "t", "type": "quantitative", "scale": {"domain": [-0.071, 1.816], "nice": false, "zero": false}}, "y": {"field": "lo", "type": "quantitative", "scale": {"domain": [0.027, 0.786], "nice": false, "zero": false}}, "y2": {"field": "hi"}}},
  {"data": {"name": "M"}, "mark": {"type": "line", "strokeWidth": 2},
   "encoding": {
    "x": {"field": "t", "type": "quantitative", "scale": {"domain": [-0.071, 1.816], "nice": false, "zero": false}},
    "y": {"field": "y", "type": "quantitative", "scale": {"domain": [0.027, 0.786], "nice": false, "zero": false}},
    "color": {"field": "algo", "type": "nominal", "scale": {"domain": ["fkl-pg","rkl-pg","js-pg","chi2-pg"], "range": ["#1f77b4","#ff7f0e","#2ca02c","#d62728"]}, "legend": null}
   }},
  {"data": {"values": [{"label": "1e7"}]}, "mark": {"type": "text", "align": "right", "baseline": "alphabetic", "fontSize": 12.5, "color": "black"},
   "encoding": {"x": {"datum": 1.812, "type": "quantitative"}, "y": {"datum": -0.1155, "type": "quantitative"}, "text": {"field": "label"}}}
 ]
},
{
 "title": "PointMazeLarge",
 "width": 328, "height": 205,
 "layer": [
  {"data": {"name": "L"}, "transform": [{"filter": "datum.algo === 'fkl-pg'"}], "mark": {"type": "area", "opacity": 0.3, "color": "#1f77b4"},
   "encoding": {"x": {"field": "t", "type": "quantitative", "scale": {"domain": [-0.101, 2.593], "nice": false, "zero": false}, "axis": {"values": [0,0.5,1.0,1.5,2.0,2.5], "format": ".1f", "title": "Timesteps"}}, "y": {"field": "lo", "type": "quantitative", "scale": {"domain": [0, 0.698], "nice": false, "zero": false}, "axis": {"values": [0,0.1,0.2,0.3,0.4,0.5,0.6], "format": ".1f", "title": "Success Rate"}}, "y2": {"field": "hi"}}},
  {"data": {"name": "L"}, "transform": [{"filter": "datum.algo === 'rkl-pg'"}], "mark": {"type": "area", "opacity": 0.3, "color": "#ff7f0e"},
   "encoding": {"x": {"field": "t", "type": "quantitative", "scale": {"domain": [-0.101, 2.593], "nice": false, "zero": false}}, "y": {"field": "lo", "type": "quantitative", "scale": {"domain": [0, 0.698], "nice": false, "zero": false}}, "y2": {"field": "hi"}}},
  {"data": {"name": "L"}, "transform": [{"filter": "datum.algo === 'js-pg'"}], "mark": {"type": "area", "opacity": 0.3, "color": "#2ca02c"},
   "encoding": {"x": {"field": "t", "type": "quantitative", "scale": {"domain": [-0.101, 2.593], "nice": false, "zero": false}}, "y": {"field": "lo", "type": "quantitative", "scale": {"domain": [0, 0.698], "nice": false, "zero": false}}, "y2": {"field": "hi"}}},
  {"data": {"name": "L"}, "transform": [{"filter": "datum.algo === 'chi2-pg'"}], "mark": {"type": "area", "opacity": 0.3, "color": "#d62728"},
   "encoding": {"x": {"field": "t", "type": "quantitative", "scale": {"domain": [-0.101, 2.593], "nice": false, "zero": false}}, "y": {"field": "lo", "type": "quantitative", "scale": {"domain": [0, 0.698], "nice": false, "zero": false}}, "y2": {"field": "hi"}}},
  {"data": {"name": "L"}, "mark": {"type": "line", "strokeWidth": 2},
   "encoding": {
    "x": {"field": "t", "type": "quantitative", "scale": {"domain": [-0.101, 2.593], "nice": false, "zero": false}},
    "y": {"field": "y", "type": "quantitative", "scale": {"domain": [0, 0.698], "nice": false, "zero": false}},
    "color": {"field": "algo", "type": "nominal", "scale": {"domain": ["fkl-pg","rkl-pg","js-pg","chi2-pg"], "range": ["#1f77b4","#ff7f0e","#2ca02c","#d62728"]},
     "legend": {"title": null, "orient": "none", "legendX": 7, "legendY": 8, "symbolType": "stroke", "symbolSize": 1089, "symbolStrokeWidth": 2, "labelFontSize": 14, "labelColor": "black", "labelFont": "DejaVu Sans", "labelOffset": 11, "padding": 6, "rowPadding": 0, "fillColor": "rgba(255,255,255,0.8)", "strokeColor": "#cccccc", "cornerRadius": 3}}
   }},
  {"data": {"values": [{"label": "1e7"}]}, "mark": {"type": "text", "align": "right", "baseline": "alphabetic", "fontSize": 12.5, "color": "black"},
   "encoding": {"x": {"datum": 2.59, "type": "quantitative"}, "y": {"datum": -0.131, "type": "quantitative"}, "text": {"field": "label"}}}
 ]
}
]
}
